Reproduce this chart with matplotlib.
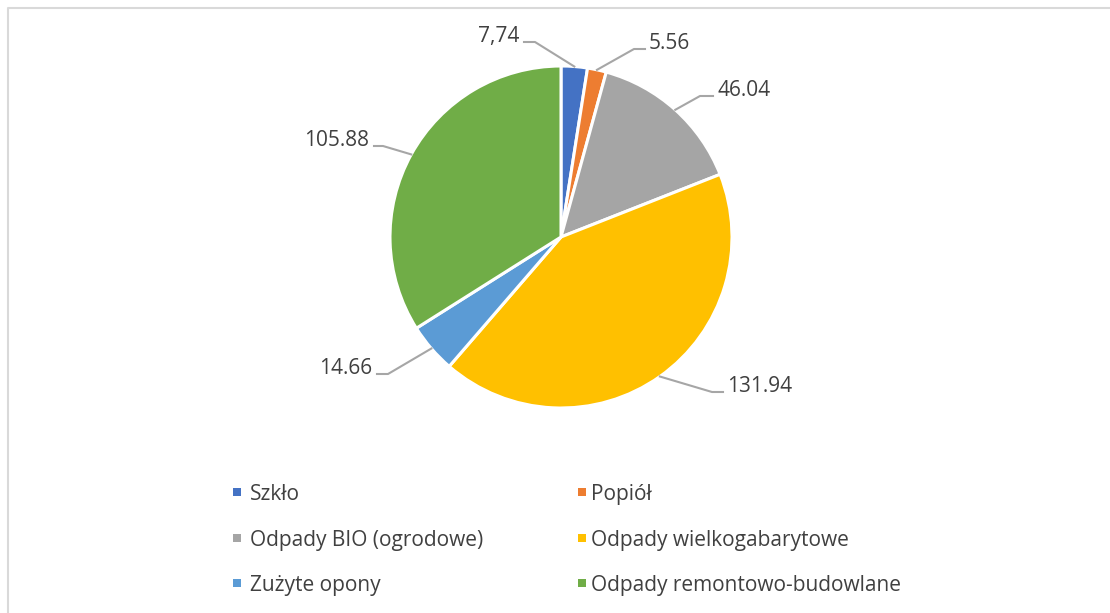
import matplotlib
matplotlib.use("Agg")
import matplotlib.pyplot as plt
from matplotlib.lines import Line2D
from matplotlib.patches import Rectangle
import numpy as np

# ---- data ----
categories = ["Szkło", "Popiół", "Odpady BIO (ogrodowe)", "Odpady wielkogabarytowe",
              "Zużyte opony", "Odpady remontowo-budowlane"]
values = [7.74, 5.56, 46.04, 131.94, 14.66, 105.88]
value_labels = ["7,74", "5.56", "46.04", "131.94", "14.66", "105.88"]
colors = ["#4472C4", "#ED7D31", "#A5A5A5", "#FFC000", "#5B9BD5", "#70AD47"]

# ---- layout (pixel coordinates, origin top-left) ----
W, H = 1110, 613
CX, CY, R = 561, 237, 171
# label text anchor x, baseline y, side (+1 text right of leader, -1 text left), elbow x
label_tx = [519, 649, 717, 727, 372, 369]
label_by = [42, 49, 96, 392, 374, 146]
label_side = [-1, 1, 1, 1, -1, -1]
label_elbow = [535, 634, 700, 712, 388, 383]
leg_marker_x = [233, 578]
leg_text_x = [250, 591]
leg_row_y = [492, 538, 583]

TEXT = "#404040"
FONT = "Open Sans"
FS = 15

fig = plt.figure(figsize=(W / 100, H / 100), dpi=100)
ax = fig.add_axes([0, 0, 1, 1])
ax.set_xlim(0, W)
ax.set_ylim(0, H)
ax.axis("off")

def fy(py):
    return H - py

wedges, _ = ax.pie(values, colors=colors, startangle=90, counterclock=False,
                   center=(CX, fy(CY)), radius=R,
                   wedgeprops=dict(edgecolor="white", linewidth=2.2))
ax.set_xlim(0, W)
ax.set_ylim(0, H)
ax.set_aspect("equal", adjustable="box")

# data labels with leader lines
for w, lab, tx, by, side, ex in zip(wedges, value_labels, label_tx, label_by,
                                    label_side, label_elbow):
    mid = np.deg2rad((w.theta1 + w.theta2) / 2)
    px = CX + R * np.cos(mid)
    py = fy(CY) + R * np.sin(mid)
    line_end = tx - 4 if side == 1 else tx + 5
    ax.add_line(Line2D([px, ex, line_end], [py, fy(by), fy(by)],
                       color="#A6A6A6", lw=1.5, zorder=1))
    ax.text(tx, fy(by), lab, ha="left" if side == 1 else "right", va="baseline",
            fontsize=FS, color=TEXT, family=FONT)

# legend (row-major, two columns)
for i, (cat, col) in enumerate(zip(categories, colors)):
    r, c = divmod(i, 2)
    y = fy(leg_row_y[r])
    ax.add_patch(Rectangle((leg_marker_x[c], y - 4), 8, 8, color=col, lw=0))
    ax.text(leg_text_x[c], y, cat, ha="left", va="center_baseline",
            fontsize=FS, color=TEXT, family=FONT)

# chart border
ax.add_line(Line2D([7.5, 7.5, W], [0, fy(7.5), fy(7.5)], color="#D9D9D9", lw=1.5))

fig.savefig("out.png", dpi=100)
